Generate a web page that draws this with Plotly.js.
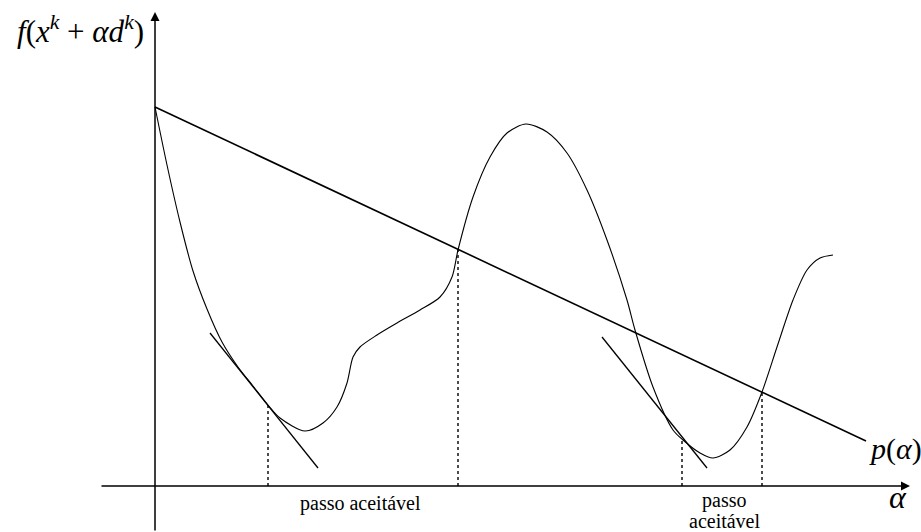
<!DOCTYPE html>
<html><head><meta charset="utf-8">
<script src="https://cdn.plot.ly/plotly-3.0.1.min.js"></script>
<style>body{margin:0;background:#fff}#c{width:921px;height:532px}</style>
</head><body><div id="c"></div>
<script>
// f(x^k + alpha d^k) curve (alpha, f)
const alphaCurve = [0.00,0.12,0.25,0.38,0.52,0.67,0.83,0.98,1.13,1.25,1.50,1.68,1.82,1.92,1.98,2.05,2.22,2.42,2.65,2.85,2.97,3.03,3.18,3.35,3.52,3.71,3.92,4.12,4.32,4.52,4.72,4.80,4.98,5.18,5.28,5.45,5.58,5.75,5.92,6.07,6.22,6.38,6.52,6.65,6.78];
const fCurve     = [3.79,3.21,2.64,2.15,1.77,1.44,1.19,1.00,0.81,0.68,0.55,0.63,0.79,1.03,1.29,1.39,1.51,1.63,1.76,1.89,2.09,2.36,2.89,3.29,3.53,3.62,3.54,3.33,2.96,2.46,1.86,1.56,0.99,0.56,0.46,0.33,0.28,0.36,0.59,0.94,1.39,1.86,2.16,2.28,2.31];
// p(alpha) line
const alphaLine = [0.00,7.11];
const pLine     = [3.79,0.45];
// tangent segments
const tan1Alpha = [0.55,1.63], tan1F = [1.53,0.18];
const tan2Alpha = [4.47,5.52], tan2F = [1.49,0.18];
// dotted verticals (alpha, f at top)
const dropAlpha = [1.13,3.03,5.27,6.07];
const dropF     = [0.81,2.37,0.46,0.94];
// axes extents
const xAxisFrom = -0.55, xAxisTo = 7.55;
const yAxisFrom = -0.46, yAxisTo = 4.74;

const ink = '#000';
const traces = [];
traces.push({x:alphaCurve,y:fCurve,mode:'lines',line:{color:ink,width:1.1,shape:'spline',smoothing:0.8},hoverinfo:'skip'});
traces.push({x:alphaLine,y:pLine,mode:'lines',line:{color:ink,width:1.6},hoverinfo:'skip'});
traces.push({x:tan1Alpha,y:tan1F,mode:'lines',line:{color:ink,width:1.3},hoverinfo:'skip'});
traces.push({x:tan2Alpha,y:tan2F,mode:'lines',line:{color:ink,width:1.3},hoverinfo:'skip'});
const dx=[],dy=[];
dropAlpha.forEach((a,i)=>{dx.push(a,a,null);dy.push(0,dropF[i],null);});
traces.push({x:dx,y:dy,mode:'lines',line:{color:ink,width:1.4,dash:'dot'},hoverinfo:'skip'});

const serif = "Liberation Serif";
const layout = {
  width:921,height:532,margin:{l:0,r:0,t:0,b:0},
  paper_bgcolor:'#fff',plot_bgcolor:'#fff',showlegend:false,
  xaxis:{range:[-1.55,7.66],visible:false,fixedrange:true},
  yaxis:{range:[-0.46,4.86],visible:false,fixedrange:true},
  annotations:[
    {x:xAxisTo,y:0,ax:xAxisFrom,ay:0,xref:'x',yref:'y',axref:'x',ayref:'y',showarrow:true,arrowhead:2,arrowsize:1.2,arrowwidth:1.5,arrowcolor:ink,text:''},
    {x:0,y:yAxisTo,ax:0,ay:yAxisFrom,xref:'x',yref:'y',axref:'x',ayref:'y',showarrow:true,arrowhead:2,arrowsize:1.2,arrowwidth:1.5,arrowcolor:ink,text:''},
    {x:-0.75,y:4.57,xref:'x',yref:'y',showarrow:false,text:'<i>f</i>(<i>x</i><sup><i>k</i></sup> + <i>αd</i><sup><i>k</i></sup>)',font:{family:serif,size:31,color:ink}},
    {x:7.40,y:0.37,xref:'x',yref:'y',showarrow:false,text:'<i>p</i>(<i>α</i>)',font:{family:serif,size:30,color:ink}},
    {x:7.43,y:-0.11,xref:'x',yref:'y',showarrow:false,text:'<i>α</i>',font:{family:serif,size:32,color:ink}},
    {x:2.05,y:-0.17,xref:'x',yref:'y',showarrow:false,text:'passo aceitável',font:{family:serif,size:20,color:ink}},
    {x:5.69,y:-0.145,xref:'x',yref:'y',showarrow:false,text:'passo',font:{family:serif,size:20,color:ink}},
    {x:5.69,y:-0.345,xref:'x',yref:'y',showarrow:false,text:'aceitável',font:{family:serif,size:20,color:ink}}
  ]
};
Plotly.newPlot('c',traces,layout,{staticPlot:true,displayModeBar:false});
</script></body></html>
